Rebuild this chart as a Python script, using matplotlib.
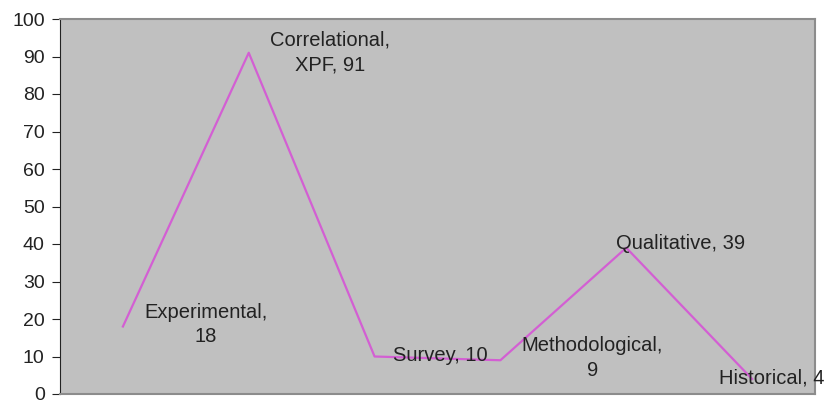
import matplotlib.pyplot as plt

plt.rcParams['font.family'] = ['Liberation Sans', 'DejaVu Sans']

methods = ['Experimental', 'Correlational', 'Survey', 'Methodological', 'Qualitative', 'Historical']
counts = [18, 91, 10, 9, 39, 4]
labels = ['Experimental,\n18', 'Correlational,\nXPF, 91', 'Survey, 10',
          'Methodological,\n9', 'Qualitative, 39', 'Historical, 4']
# label offsets from each point, in pixels
offsets = [(83, 2), (81, 0), (66, 1), (92, 2), (54, 4), (20, 1)]

fig = plt.figure(figsize=(8.27, 4.04), dpi=100)
ax = fig.add_axes([60 / 827, 10 / 404, 755 / 827, 375 / 404])
ax.set_facecolor('#c0c0c0')

xs = range(len(methods))
ax.plot(xs, counts, color='#d35fd3', lw=1.6)

for x, y, lab, (dx, dy) in zip(xs, counts, labels, offsets):
    ax.annotate(lab, (x, y), xytext=(dx, dy), textcoords='offset pixels',
                ha='center', va='center', fontsize=14.5, color='#222222',
                linespacing=1.4, annotation_clip=False)

ax.set_xlim(-0.5, len(methods) - 0.5)
ax.set_ylim(0, 100)
ax.set_yticks(range(0, 101, 10))
ax.set_xticks([])
ax.tick_params(axis='y', direction='out', length=6, pad=5, labelsize=14, colors='#222222')

for s in ['top', 'right', 'bottom']:
    ax.spines[s].set_color('#8c8c8c')
    ax.spines[s].set_linewidth(1.5)
ax.spines['left'].set_color('#222222')

fig.savefig('out.png')
